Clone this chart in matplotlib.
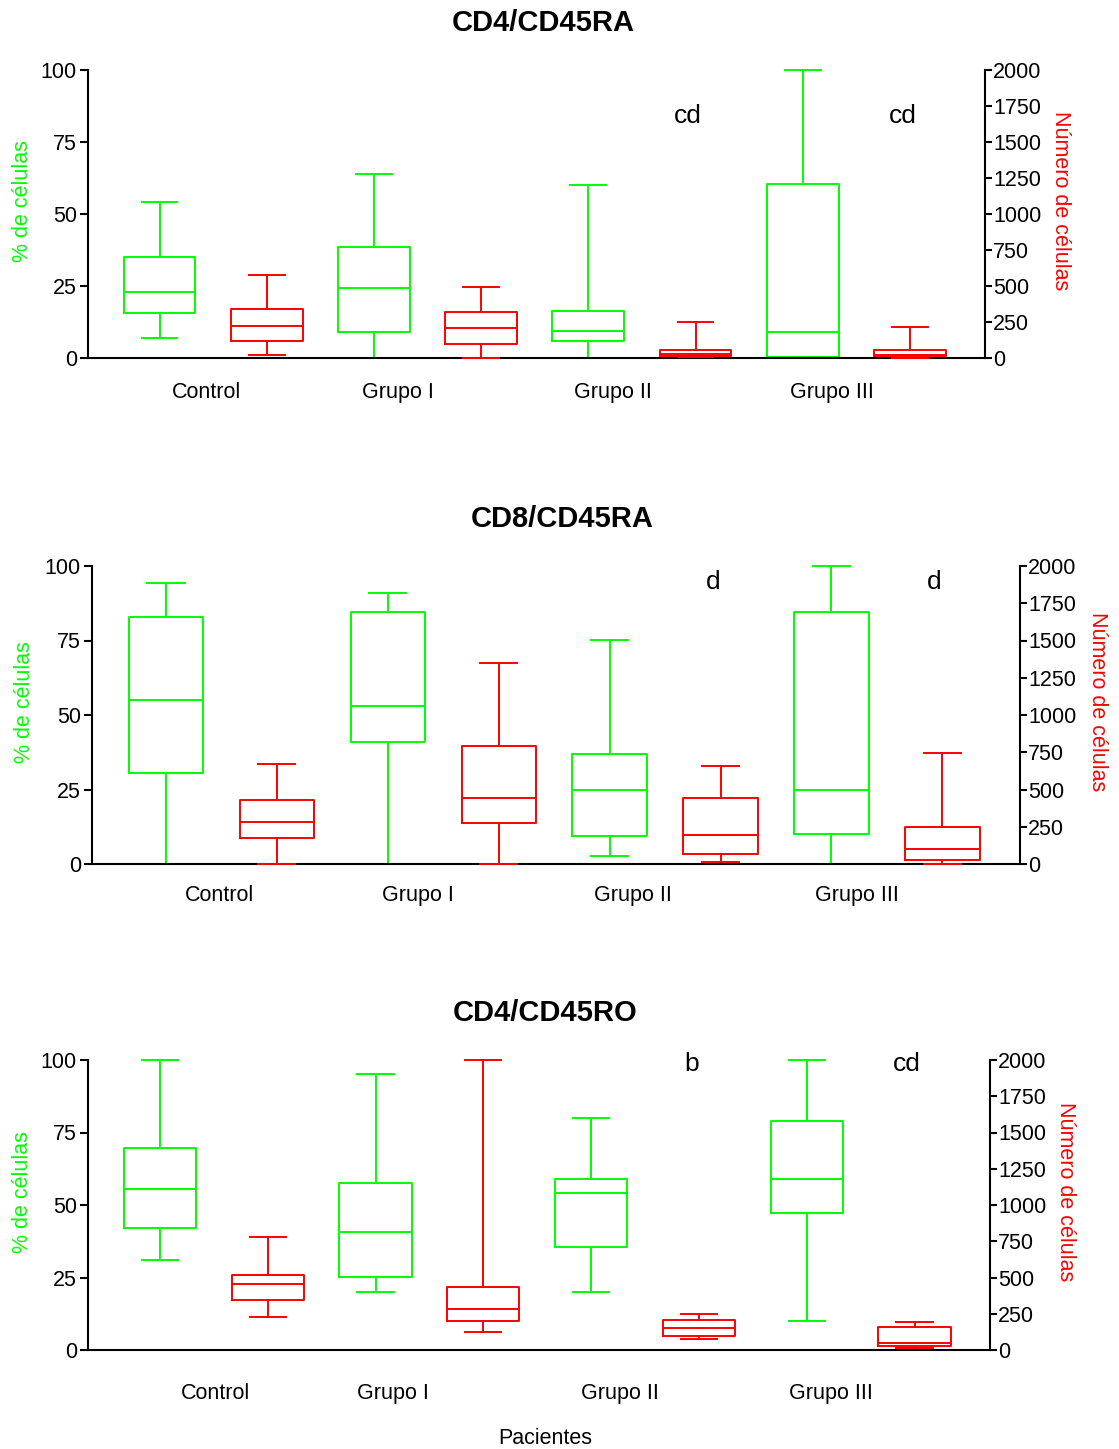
import matplotlib
matplotlib.use("Agg")
import matplotlib.pyplot as plt

plt.rcParams['font.family'] = ['Liberation Sans', 'DejaVu Sans']

GREEN = '#00ff00'
RED = '#ff0000'

groups = ['Control', 'Grupo I', 'Grupo II', 'Grupo III']
cd4ra_label_pos = [1.44, 3.22, 5.23, 7.27]
cd8ra_label_pos = [1.48, 3.27, 5.21, 7.23]
cd4ro_label_pos = [1.52, 3.16, 5.27, 7.22]

# five-number summaries (whisker low, q1, median, q3, whisker high)
# % de células (left axis, green) and número de células (right axis, red)
cd4ra_pct = [(6.9, 15.5, 22.9, 34.9, 54.0), (0, 9.0, 24.4, 38.4, 63.9),
             (0, 6.0, 9.3, 16.4, 60.0), (0, 0.3, 9.0, 60.5, 100)]
cd4ra_num = [(22, 117, 222, 342, 578), (0, 95, 208, 322, 492),
             (10, 16, 30, 55, 250), (0, 12, 18, 55, 213)]

cd8ra_pct = [(0, 30.5, 55.0, 83.0, 94.2), (0, 41.0, 52.9, 84.5, 91.0),
             (2.8, 9.4, 24.9, 37.0, 75.1), (0, 10.1, 24.9, 84.6, 100)]
cd8ra_num = [(0, 174, 281, 431, 671), (0, 276, 440, 790, 1352),
             (13, 65, 193, 444, 661), (0, 27, 99, 251, 742)]

cd4ro_pct = [(31.0, 42.1, 55.5, 69.5, 100), (20.0, 25.1, 40.6, 57.6, 95.2),
             (20.1, 35.6, 54.1, 59.1, 80.1), (10.1, 47.2, 59.1, 79.1, 100)]
cd4ro_num = [(230, 345, 453, 515, 780), (122, 202, 283, 434, 2000),
             (78, 97, 152, 207, 248), (12, 28, 51, 159, 195)]

# significance letters over the red boxes (position, height in %)
cd4ra_marks = [(6, 84, 'cd'), (8, 84, 'cd')]
cd8ra_marks = [(6, 94.5, 'd'), (8, 94.5, 'd')]
cd4ro_marks = [(6, 98.5, 'b'), (8, 98.5, 'cd')]

W, H = 1119, 1449
fig = plt.figure(figsize=(W / 100, H / 100), dpi=100)


def px_rect(left, top, right, bottom):
    return [left / W, 1 - bottom / H, (right - left) / W, (bottom - top) / H]


def to_stats(rows):
    return [dict(whislo=r[0], q1=r[1], med=r[2], q3=r[3], whishi=r[4]) for r in rows]


def draw_box(ax, rows, positions, color):
    lp = dict(color=color, linewidth=1.4)
    res = ax.bxp(to_stats(rows), positions=positions, widths=0.67, capwidths=0.335,
                 showfliers=False, manage_ticks=False,
                 boxprops=lp, whiskerprops=lp, capprops=lp, medianprops=lp)
    for lines in res.values():
        for l in lines:
            l.set_clip_on(False)


def panel(rect, title, pct, num, marks, label_pos, xpad):
    ax = fig.add_axes(rect)
    ax2 = ax.twinx()
    draw_box(ax, pct, [1, 3, 5, 7], GREEN)
    draw_box(ax2, num, [2, 4, 6, 8], RED)

    ax.set_xlim(0.333, 8.70)
    ax.set_ylim(0, 100)
    ax2.set_ylim(0, 2000)
    ax.set_yticks([0, 25, 50, 75, 100])
    ax2.set_yticks(range(0, 2001, 250))
    ax.set_xticks(label_pos, groups)

    ax.tick_params(axis='x', length=0, pad=xpad, labelsize=15.5)
    ax.tick_params(axis='y', length=6, width=1.5, labelsize=15.5, pad=2)
    ax2.tick_params(axis='y', length=5, width=1.5, labelsize=15.5, pad=1)

    for s in ['top', 'right']:
        ax.spines[s].set_visible(False)
    for s in ['top', 'left', 'bottom']:
        ax2.spines[s].set_visible(False)
    ax.spines['left'].set_linewidth(1.5)
    ax.spines['bottom'].set_linewidth(1.5)
    ax2.spines['right'].set_linewidth(1.5)

    ax.set_ylabel('% de células', color=GREEN, fontsize=15.5, rotation=90,
                  rotation_mode='default', ha='center', va='center')
    ax.yaxis.set_label_coords(-0.073, 0.545)
    ax2.set_ylabel('Número de células', color=RED, fontsize=15.5, rotation=270,
                   rotation_mode='default', ha='center', va='center')
    ax2.yaxis.set_label_coords(1.084, 0.545)

    ax.set_title(title, fontsize=21, fontweight='bold', pad=28, x=0.507)

    for pos, y, txt in marks:
        ax.text(pos - 0.07, y, txt, fontsize=19, ha='center', va='center')
    return ax


panel(px_rect(88, 70, 985, 358), 'CD4/CD45RA', cd4ra_pct, cd4ra_num, cd4ra_marks,
      cd4ra_label_pos, 17)
panel(px_rect(92, 566, 1020, 864), 'CD8/CD45RA', cd8ra_pct, cd8ra_num, cd8ra_marks,
      cd8ra_label_pos, 15)
panel(px_rect(88, 1060, 990, 1350), 'CD4/CD45RO', cd4ro_pct, cd4ro_num, cd4ro_marks,
      cd4ro_label_pos, 24)

fig.text(545 / W, 1 - 1438 / H, 'Pacientes', ha='center', va='center', fontsize=15.5)

fig.savefig('out.png', dpi=100)
